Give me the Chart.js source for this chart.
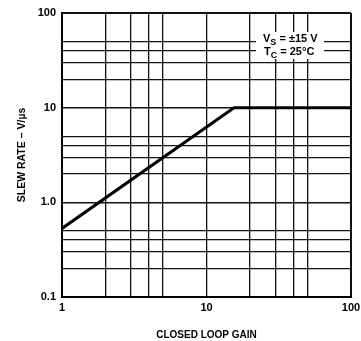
<!DOCTYPE html>
<html>
<head>
<meta charset="utf-8">
<script src="https://cdn.jsdelivr.net/npm/chart.js@4.4.1/dist/chart.umd.min.js"></script>
<style>
  html, body { margin: 0; padding: 0; background: #fff; }
  #wrap { width: 361px; height: 341px; }
</style>
</head>
<body>
<div id="wrap"><canvas id="slewChart" width="361" height="341"></canvas></div>
<script>
"use strict"

// Data
const closedLoopGain = [1, 15.5, 100];
const slewRate = [0.53, 10, 10];

// Grid / tick values
const xGridValues = [1, 2, 3, 4, 5, 10, 20, 30, 40, 50, 100];
const yGridValues = [0.1, 0.2, 0.3, 0.4, 0.5, 1, 2, 3, 4, 5, 10, 20, 30, 40, 50, 100];
const xTickLabels = { 1: '1', 10: '10', 100: '100' };
const yTickLabels = { 0.1: '0.1', 1: '1.0', 10: '10', 100: '100' };

const FONT = 'Liberation Sans, Arial, Helvetica, sans-serif';

// Legend box with subscripts: V_S = ±15 V, T_C = 25°C
const conditionsBox = {
    id: 'conditionsBox',
    afterDraw(chart) {
        const ctx = chart.ctx;
        const area = chart.chartArea;
        const x0 = area.right - 95;
        const y0 = area.top + 19;
        ctx.save();
        ctx.fillStyle = '#fff';
        ctx.fillRect(x0, y0, 68, 27);
        ctx.fillStyle = '#000';
        ctx.textBaseline = 'alphabetic';
        const rows = [
            { main: 'V', sub: 'S', rest: ' = \u00b115 V', y: y0 + 10 },
            { main: 'T', sub: 'C', rest: ' = 25\u00b0C', y: y0 + 23 }
        ];
        rows.forEach((r, i) => {
            let x = x0 + 7 + (i === 1 ? 1 : 0);
            ctx.font = 'bold 11px ' + FONT;
            ctx.fillText(r.main, x, r.y);
            x += ctx.measureText(r.main).width;
            ctx.font = 'bold 9px ' + FONT;
            ctx.fillText(r.sub, x, r.y + 3);
            x += ctx.measureText(r.sub).width;
            ctx.font = 'bold 11px ' + FONT;
            ctx.fillText(r.rest, x, r.y);
        });
        ctx.restore();
    }
};

function isDecade(v) {
    const l = Math.log10(v);
    return Math.abs(l - Math.round(l)) < 1e-6;
}

function createSlewChart() {
    const ctx = document.getElementById('slewChart').getContext('2d');

    new Chart(ctx, {
        type: 'line',
        data: {
            datasets: [{
                data: closedLoopGain.map((g, i) => ({ x: g, y: slewRate[i] })),
                borderColor: '#000',
                borderWidth: 3,
                pointRadius: 0,
                tension: 0,
                fill: false
            }]
        },
        options: {
            responsive: false,
            animation: false,
            devicePixelRatio: 1,
            layout: { padding: { left: 16, right: 10, top: 13, bottom: 0 } },
            plugins: {
                legend: { display: false },
                tooltip: { enabled: false }
            },
            scales: {
                x: {
                    type: 'logarithmic',
                    min: 1,
                    max: 100,
                    afterBuildTicks: scale => {
                        scale.ticks = xGridValues.map(v => ({ value: v }));
                    },
                    afterFit: scale => {
                        scale.height = 44;
                        scale.paddingRight = 0;
                        scale.paddingLeft = 0;
                    },
                    grid: {
                        color: '#111',
                        lineWidth: c => (c.tick && (c.tick.value === 1 || c.tick.value === 100)) ? 2 : 1.3,
                        drawTicks: false
                    },
                    border: { display: true, color: '#000', width: 2 },
                    ticks: {
                        autoSkip: false,
                        maxRotation: 0,
                        padding: 4,
                        color: '#000',
                        font: { family: FONT, size: 11, weight: 'bold' },
                        callback: v => xTickLabels[v] || ''
                    },
                    title: {
                        display: true,
                        text: 'CLOSED LOOP GAIN',
                        color: '#000',
                        font: { family: FONT, size: 10, weight: 'bold' },
                        padding: { top: 9, bottom: 0 }
                    }
                },
                y: {
                    type: 'logarithmic',
                    min: 0.1,
                    max: 100,
                    afterBuildTicks: scale => {
                        scale.ticks = yGridValues.map(v => ({ value: v }));
                    },
                    afterFit: scale => {
                        scale.width = 46;
                        scale.paddingTop = 0;
                        scale.paddingBottom = 0;
                    },
                    grid: {
                        color: '#111',
                        lineWidth: c => (c.tick && (c.tick.value === 0.1 || c.tick.value === 100)) ? 2 : (c.tick && isDecade(c.tick.value) ? 1.6 : 1.3),
                        drawTicks: false
                    },
                    border: { display: true, color: '#000', width: 2 },
                    ticks: {
                        autoSkip: false,
                        padding: 6,
                        color: '#000',
                        font: { family: FONT, size: 11, weight: 'bold' },
                        callback: v => yTickLabels[v] || ''
                    },
                    title: {
                        display: true,
                        text: 'SLEW RATE \u2013 V/\u00b5s',
                        color: '#000',
                        font: { family: FONT, size: 10.5, weight: 'bold' },
                        padding: { top: 0, bottom: 0 }
                    }
                }
            }
        },
        plugins: [conditionsBox]
    });
}

createSlewChart();
</script>
</body>
</html>
